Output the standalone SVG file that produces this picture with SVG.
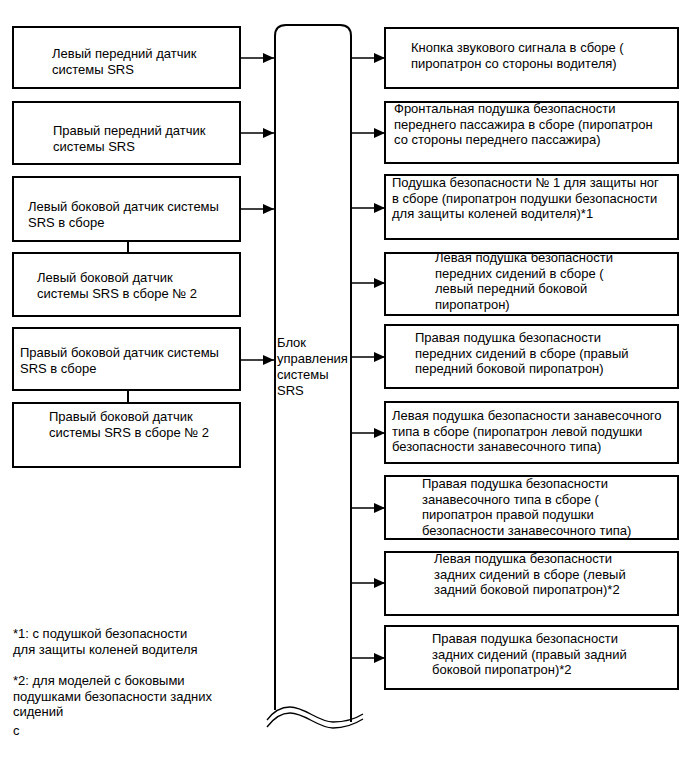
<svg xmlns="http://www.w3.org/2000/svg" width="691" height="757" viewBox="0 0 691 757">
<style>
.box{fill:#fff;stroke:#000;stroke-width:2}
.t{font-family:"Liberation Sans",Arial,sans-serif;font-size:13px;fill:#000}
.ln{stroke:#000;stroke-width:1.3;fill:none}
.br{stroke:#000;stroke-width:2;fill:none}
</style>
<defs>
<marker id="ar" markerWidth="11" markerHeight="10" refX="11" refY="5" orient="auto" markerUnits="userSpaceOnUse">
<path d="M0,0 L11,5 L0,10 Z" fill="#000"/>
</marker>
</defs>
<rect width="691" height="757" fill="#fff"/>

<g id="connectors">
<line class="ln" x1="240" y1="58" x2="274" y2="58" marker-end="url(#ar)"/>
<line class="ln" x1="240" y1="133" x2="274" y2="133" marker-end="url(#ar)"/>
<line class="ln" x1="240" y1="209" x2="274" y2="209" marker-end="url(#ar)"/>
<line class="ln" x1="240" y1="360" x2="274" y2="360" marker-end="url(#ar)"/>
<line class="br" x1="128" y1="241" x2="128" y2="253"/>
<line class="br" x1="128" y1="390" x2="128" y2="403"/>
<line class="ln" x1="352" y1="58" x2="385" y2="58" marker-end="url(#ar)"/>
<line class="ln" x1="352" y1="133" x2="385" y2="133" marker-end="url(#ar)"/>
<line class="ln" x1="352" y1="208" x2="385" y2="208" marker-end="url(#ar)"/>
<line class="ln" x1="352" y1="283" x2="385" y2="283" marker-end="url(#ar)"/>
<line class="ln" x1="352" y1="357" x2="385" y2="357" marker-end="url(#ar)"/>
<line class="ln" x1="352" y1="433" x2="385" y2="433" marker-end="url(#ar)"/>
<line class="ln" x1="352" y1="508" x2="385" y2="508" marker-end="url(#ar)"/>
<line class="ln" x1="352" y1="583" x2="385" y2="583" marker-end="url(#ar)"/>
<line class="ln" x1="352" y1="658" x2="385" y2="658" marker-end="url(#ar)"/>
</g>

<g id="ecu">
<path class="br" d="M275,710 L275,36 Q275,25 286,25 L340,25 Q351,25 351,36 L351,722"/>
<path class="ln" d="M267,720 C273,712 280,707 290,707 C305,707 318,722 333,722 C345,722 355,719 363,714"/>
<path class="ln" d="M267,727 C273,719 280,713 290,713 C305,713 318,728 333,728 C345,728 355,724 363,719"/>
<text class="t" x="277" y="347">Блок</text>
<text class="t" x="277" y="363">управления</text>
<text class="t" x="277" y="379">системы</text>
<text class="t" x="277" y="395">SRS</text>
</g>

<g id="l1"><rect class="box" x="13" y="27" width="227" height="61"/>
<text class="t" x="52" y="58">Левый передний датчик</text><text class="t" x="52" y="74">системы SRS</text></g>
<g id="l2"><rect class="box" x="13" y="102" width="227" height="62"/>
<text class="t" x="53" y="135">Правый передний датчик</text><text class="t" x="53" y="151">системы SRS</text></g>
<g id="l3"><rect class="box" x="13" y="177" width="227" height="64"/>
<text class="t" x="28" y="211">Левый боковой датчик системы</text><text class="t" x="28" y="227">SRS в сборе</text></g>
<g id="l4"><rect class="box" x="13" y="253" width="227" height="63"/>
<text class="t" x="37" y="282">Левый боковой датчик</text><text class="t" x="37" y="298">системы SRS в сборе № 2</text></g>
<g id="l5"><rect class="box" x="13" y="328" width="227" height="62"/>
<text class="t" x="20" y="357">Правый боковой датчик системы</text><text class="t" x="20" y="373">SRS в сборе</text></g>
<g id="l6"><rect class="box" x="13" y="403" width="227" height="64"/>
<text class="t" x="49" y="421">Правый боковой датчик</text><text class="t" x="49" y="437">системы SRS в сборе № 2</text></g>

<g id="r1"><rect class="box" x="385" y="28" width="293" height="60"/>
<text class="t" x="411" y="52">Кнопка звукового сигнала в сборе (</text><text class="t" x="411" y="68">пиропатрон со стороны водителя)</text></g>
<g id="r2"><rect class="box" x="385" y="102" width="293" height="61"/>
<text class="t" x="394" y="113">Фронтальная подушка безопасности</text><text class="t" x="394" y="129">переднего пассажира в сборе (пиропатрон</text><text class="t" x="394" y="144">со стороны переднего пассажира)</text></g>
<g id="r3"><rect class="box" x="385" y="175" width="293" height="64"/>
<text class="t" x="392" y="187">Подушка безопасности № 1 для защиты ног</text><text class="t" x="392" y="203">в сборе (пиропатрон подушки безопасности</text><text class="t" x="392" y="218">для защиты коленей водителя)*1</text></g>
<g id="r4"><rect class="box" x="385" y="253" width="293" height="62"/>
<text class="t" x="435" y="262">Левая подушка безопасности</text><text class="t" x="435" y="278">передних сидений в сборе (</text><text class="t" x="435" y="293">левый передний боковой</text><text class="t" x="435" y="309">пиропатрон)</text></g>
<g id="r5"><rect class="box" x="385" y="325" width="293" height="63"/>
<text class="t" x="415" y="342">Правая подушка безопасности</text><text class="t" x="415" y="358">передних сидений в сборе (правый</text><text class="t" x="415" y="373">передний боковой пиропатрон)</text></g>
<g id="r6"><rect class="box" x="385" y="402" width="293" height="61"/>
<text class="t" x="392" y="420">Левая подушка безопасности занавесочного</text><text class="t" x="392" y="436">типа в сборе (пиропатрон левой подушки</text><text class="t" x="392" y="451">безопасности занавесочного типа)</text></g>
<g id="r7"><rect class="box" x="385" y="476" width="293" height="63"/>
<text class="t" x="422" y="488">Правая подушка безопасности</text><text class="t" x="422" y="504">занавесочного типа в сборе (</text><text class="t" x="422" y="519">пиропатрон правой подушки</text><text class="t" x="422" y="535">безопасности занавесочного типа)</text></g>
<g id="r8"><rect class="box" x="385" y="552" width="293" height="63"/>
<text class="t" x="434" y="563">Левая подушка безопасности</text><text class="t" x="434" y="579">задних сидений в сборе (левый</text><text class="t" x="434" y="594">задний боковой пиропатрон)*2</text></g>
<g id="r9"><rect class="box" x="385" y="626" width="293" height="63"/>
<text class="t" x="432" y="643">Правая подушка безопасности</text><text class="t" x="432" y="659">задних сидений (правый задний</text><text class="t" x="432" y="674">боковой пиропатрон)*2</text></g>

<g id="notes">
<text class="t" x="13" y="638">*1: с подушкой безопасности</text>
<text class="t" x="13" y="654">для защиты коленей водителя</text>
<text class="t" x="13" y="685">*2: для моделей с боковыми</text>
<text class="t" x="13" y="701">подушками безопасности задних</text>
<text class="t" x="13" y="716">сидений</text>
<text class="t" x="13" y="735">c</text>
</g>
</svg>
